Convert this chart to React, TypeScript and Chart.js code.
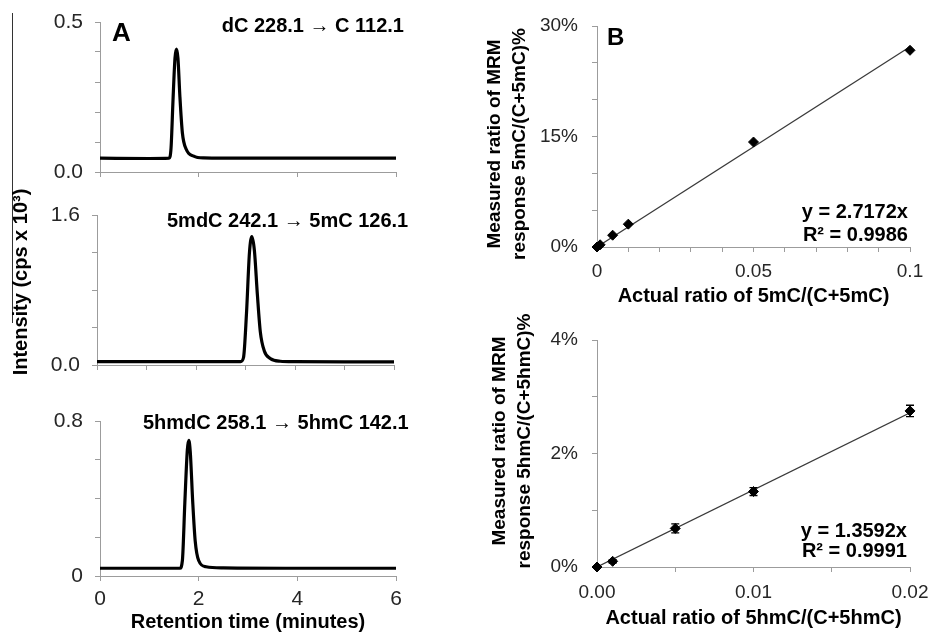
import React, { useEffect, useRef } from 'react';
import { Chart, registerables } from 'chart.js';

Chart.register(...registerables);

const FONT = "'Liberation Sans', Arial, Helvetica, sans-serif";
const AXIS = '#9c9c9c';
const TICK_COLOR = '#262626';

// ---------- Panel A: chromatograms (time in minutes, intensity in cps x 10^3) ----------
const dcTime = [0, 1.0, 1.4, 1.44, 1.48, 1.52, 1.55, 1.58, 1.62, 1.67, 1.75, 1.9, 2.1, 3, 4, 5, 6];
const dcIntensity = [0.046, 0.045, 0.046, 0.08, 0.24, 0.38, 0.41, 0.38, 0.25, 0.13, 0.075, 0.053, 0.047, 0.046, 0.046, 0.046, 0.046];

const mdcTime = [0, 1.5, 2.9, 2.96, 3.02, 3.08, 3.13, 3.18, 3.24, 3.3, 3.38, 3.5, 3.7, 4, 5, 6];
const mdcIntensity = [0.035, 0.035, 0.035, 0.08, 0.55, 1.2, 1.37, 1.22, 0.75, 0.35, 0.15, 0.07, 0.04, 0.035, 0.033, 0.033];

const hmdcTime = [0, 1.0, 1.62, 1.67, 1.72, 1.77, 1.8, 1.83, 1.88, 1.93, 2.0, 2.15, 2.5, 4, 6];
const hmdcIntensity = [0.04, 0.04, 0.04, 0.08, 0.38, 0.65, 0.7, 0.64, 0.38, 0.18, 0.08, 0.048, 0.042, 0.04, 0.04];

const timeTicks2: [number, string][] = [[0, '0'], [2, '2'], [4, '4'], [6, '6']];
const dcYLabels: [number, string][] = [[0, '0.0'], [0.5, '0.5']];
const mdcYLabels: [number, string][] = [[0, '0.0'], [1.6, '1.6']];
const hmdcYLabels: [number, string][] = [[0, '0'], [0.8, '0.8']];

// ---------- Panel B: calibration ----------
const mcActual = [0, 0.001, 0.005, 0.01, 0.05, 0.1];
const mcMeasured = [0, 0.003, 0.016, 0.031, 0.1425, 0.267];
const mcTrendX = [0, 0.1];
const mcTrendY = [0, 0.27172];
const mcXLabels: [number, string][] = [[0, '0'], [0.05, '0.05'], [0.1, '0.1']];
const mcYLabels: [number, string][] = [[0, '0%'], [0.15, '15%'], [0.3, '30%']];

const hmcActual = [0, 0.001, 0.005, 0.01, 0.02];
const hmcMeasured = [0, 0.001, 0.0068, 0.0133, 0.0275];
const hmcError = [0, 0.0003, 0.0008, 0.0007, 0.001];
const hmcTrendX = [0, 0.02];
const hmcTrendY = [0, 0.027184];
const hmcXLabels: [number, string][] = [[0, '0.00'], [0.01, '0.01'], [0.02, '0.02']];
const hmcYLabels: [number, string][] = [[0, '0%'], [0.02, '2%'], [0.04, '4%']];

const near = (a: number, b: number) => Math.abs(a - b) < 1e-9;
const labelAt = (map: [number, string][]) => (v: any) => {
  const n = Number(v);
  for (const [k, s] of map) if (near(n, k)) return s;
  return '';
};

const tickFontA = { family: FONT, size: 21 };
const tickFontB = { family: FONT, size: 19 };
const titleFont = { family: FONT, size: 20, weight: 'bold' as const, lineHeight: 1 };

function axisCommon() {
  return {
    grid: { drawOnChartArea: false, drawTicks: true, tickLength: 5, tickColor: AXIS, lineWidth: 1 },
    border: { display: true, color: AXIS, width: 1 },
  };
}

const fixX = (h: number) => (s: any) => { s.height = h; s.paddingLeft = 0; s.paddingRight = 0; };
const fixY = (w: number) => (s: any) => { s.width = w; s.paddingTop = 0; s.paddingBottom = 0; };

function chromConfig(opts: {
  times: number[]; values: number[]; yMax: number; yStep: number; yLabels: [number, string][];
  xStep: number; xLabels: [number, string][]; yWidth: number; xHeight: number; padding: any; xTitle?: string;
}) {
  return {
    type: 'line',
    data: {
      datasets: [{
        data: opts.times.map((t, i) => ({ x: t, y: opts.values[i] })),
        borderColor: '#000', borderWidth: 3.2, pointRadius: 0, fill: false,
        cubicInterpolationMode: 'monotone', borderJoinStyle: 'round', borderCapStyle: 'round',
      }],
    },
    options: {
      responsive: false, animation: false, events: [],
      layout: { padding: opts.padding, autoPadding: false },
      plugins: { legend: { display: false }, tooltip: { enabled: false } },
      scales: {
        x: {
          type: 'linear', min: 0, max: 6, ...axisCommon(),
          afterFit: fixX(opts.xHeight),
          ticks: { stepSize: opts.xStep, autoSkip: false, maxRotation: 0, padding: 6, font: tickFontA, color: TICK_COLOR, callback: labelAt(opts.xLabels) },
          title: opts.xTitle ? { display: true, text: opts.xTitle, font: titleFont, color: '#000', padding: { top: 0, bottom: 0 } } : { display: false },
        },
        y: {
          type: 'linear', min: 0, max: opts.yMax, ...axisCommon(),
          afterFit: fixY(opts.yWidth),
          ticks: { stepSize: opts.yStep, autoSkip: false, padding: 12, font: tickFontA, color: TICK_COLOR, callback: labelAt(opts.yLabels) },
        },
      },
    },
  };
}

function errorBarPlugin(xs: number[], ys: number[], errs: number[]) {
  return {
    id: 'errorBars',
    afterDatasetsDraw(chart: any) {
      const { ctx, scales } = chart;
      const x = scales.x, y = scales.y;
      ctx.save();
      ctx.strokeStyle = '#000';
      ctx.lineWidth = 1.3;
      xs.forEach((xv, i) => {
        const e = errs[i];
        if (!e) return;
        const px = x.getPixelForValue(xv);
        const t = y.getPixelForValue(ys[i] + e);
        const b = y.getPixelForValue(ys[i] - e);
        ctx.beginPath();
        ctx.moveTo(px, t); ctx.lineTo(px, b);
        ctx.moveTo(px - 4, t); ctx.lineTo(px + 4, t);
        ctx.moveTo(px - 4, b); ctx.lineTo(px + 4, b);
        ctx.stroke();
      });
      ctx.restore();
    },
  };
}

function calibConfig(opts: {
  xs: number[]; ys: number[]; tx: number[]; ty: number[]; xMax: number; xStep: number; xLabels: [number, string][];
  yMax: number; yStep: number; yLabels: [number, string][]; yWidth: number; xHeight: number; padding: any;
  xTitle: string; titleBottom: number; xPad: number; errs?: number[];
}) {
  return {
    type: 'scatter',
    data: {
      datasets: [
        {
          data: opts.xs.map((x, i) => ({ x, y: opts.ys[i] })),
          pointStyle: 'rectRot', pointRadius: 5, backgroundColor: '#000', borderColor: '#000', borderWidth: 1,
          showLine: false, clip: false,
        },
        {
          data: opts.tx.map((x, i) => ({ x, y: opts.ty[i] })),
          showLine: true, borderColor: '#3a3a3a', borderWidth: 1.2, pointRadius: 0, fill: false,
        },
      ],
    },
    plugins: opts.errs ? [errorBarPlugin(opts.xs, opts.ys, opts.errs)] : [],
    options: {
      responsive: false, animation: false, events: [],
      layout: { padding: opts.padding, autoPadding: false },
      plugins: { legend: { display: false }, tooltip: { enabled: false } },
      scales: {
        x: {
          type: 'linear', min: 0, max: opts.xMax, ...axisCommon(),
          afterFit: fixX(opts.xHeight),
          ticks: { stepSize: opts.xStep, autoSkip: false, maxRotation: 0, padding: opts.xPad, font: tickFontB, color: TICK_COLOR, callback: labelAt(opts.xLabels) },
          title: { display: true, text: opts.xTitle, font: titleFont, color: '#000', padding: { top: 0, bottom: opts.titleBottom } },
        },
        y: {
          type: 'linear', min: 0, max: opts.yMax, ...axisCommon(),
          afterFit: fixY(opts.yWidth),
          ticks: { stepSize: opts.yStep, autoSkip: false, padding: 14, font: tickFontB, color: TICK_COLOR, callback: labelAt(opts.yLabels) },
        },
      },
    },
  };
}

function ChartCanvas({ left, top, width, height, config }: { left: number; top: number; width: number; height: number; config: any }) {
  const ref = useRef<HTMLCanvasElement>(null);
  useEffect(() => {
    if (!ref.current) return;
    const chart = new Chart(ref.current, config);
    return () => chart.destroy();
  }, []);
  return (
    <canvas ref={ref} width={width} height={height}
      style={{ position: 'absolute', left, top, width, height }} />
  );
}

function Label({ text, x, baseline, size, bold = true, align = 'left' }: { text: React.ReactNode; x: number; baseline: number; size: number; bold?: boolean; align?: 'left' | 'right' }) {
  const top = baseline - 0.8465 * size;
  const style: React.CSSProperties = {
    position: 'absolute', top, fontSize: size, lineHeight: 1, fontWeight: bold ? 700 : 400,
    whiteSpace: 'nowrap', color: '#000', fontFamily: FONT,
  };
  if (align === 'left') style.left = x; else style.right = 932 - x;
  return <div style={style}>{text}</div>;
}

function RotText({ lines, cx, cy, size, lh }: { lines: string[]; cx: number; cy: number; size: number; lh: number }) {
  return (
    <div style={{
      position: 'absolute', left: cx, top: cy, transform: 'translate(-50%, -50%) rotate(-90deg)',
      whiteSpace: 'nowrap', fontSize: size, lineHeight: `${lh}px`, fontWeight: 700, textAlign: 'center',
      color: '#000', fontFamily: FONT,
    }}>
      {lines.map((l, i) => <div key={i}>{l}</div>)}
    </div>
  );
}

export default function App() {
  const a1 = chromConfig({ times: dcTime, values: dcIntensity, yMax: 0.5, yStep: 0.1, yLabels: dcYLabels, xStep: 2, xLabels: [], yWidth: 100, xHeight: 18, padding: { top: 22, right: 34, bottom: 0, left: 0 } });
  const a2 = chromConfig({ times: mdcTime, values: mdcIntensity, yMax: 1.6, yStep: 0.4, yLabels: mdcYLabels, xStep: 1, xLabels: [], yWidth: 97, xHeight: 20, padding: { top: 25, right: 36, bottom: 0, left: 0 } });
  const a3 = chromConfig({ times: hmdcTime, values: hmdcIntensity, yMax: 0.8, yStep: 0.2, yLabels: hmdcYLabels, xStep: 2, xLabels: timeTicks2, yWidth: 100, xHeight: 56, padding: { top: 36, right: 34, bottom: 0, left: 0 }, xTitle: 'Retention time (minutes)' });
  const b1 = calibConfig({ xs: mcActual, ys: mcMeasured, tx: mcTrendX, ty: mcTrendY, xMax: 0.1, xStep: 0.01, xLabels: mcXLabels, yMax: 0.3, yStep: 0.05, yLabels: mcYLabels, yWidth: 137, xHeight: 73, padding: { top: 26, right: 22, bottom: 0, left: 0 }, xTitle: 'Actual ratio of 5mC/(C+5mC)', titleBottom: 14, xPad: 8 });
  const b2 = calibConfig({ xs: hmcActual, ys: hmcMeasured, tx: hmcTrendX, ty: hmcTrendY, xMax: 0.02, xStep: 0.005, xLabels: hmcXLabels, yMax: 0.04, yStep: 0.01, yLabels: hmcYLabels, yWidth: 137, xHeight: 65, padding: { top: 20, right: 22, bottom: 0, left: 0 }, xTitle: 'Actual ratio of 5hmC/(C+5hmC)', titleBottom: 4, xPad: 9, errs: hmcError });

  return (
    <div style={{ position: 'absolute', left: 0, top: 0, width: 932, height: 632, background: '#fff', overflow: 'hidden', fontFamily: FONT }}>
      <ChartCanvas left={0} top={0} width={430} height={190} config={a1} />
      <ChartCanvas left={0} top={190} width={430} height={195} config={a2} />
      <ChartCanvas left={0} top={385} width={430} height={247} config={a3} />
      <ChartCanvas left={460} top={0} width={472} height={320} config={b1} />
      <ChartCanvas left={460} top={320} width={472} height={312} config={b2} />

      <div style={{ position: 'absolute', left: 12, top: 13, width: 1, height: 310, background: '#333' }} />
      <RotText lines={['Intensity (cps x 10³)']} cx={20} cy={282} size={20} lh={24} />
      <RotText lines={['Measured ratio of MRM', 'response 5mC/(C+5mC)%']} cx={506} cy={144} size={19} lh={25} />
      <RotText lines={['Measured ratio of MRM', 'response 5hmC/(C+5hmC)%']} cx={511} cy={441} size={19} lh={25} />

      <Label text="A" x={112} baseline={41} size={26} />
      <Label text="B" x={607} baseline={45} size={24} />
      <Label text="dC 228.1 → C 112.1" x={404} baseline={32} size={20} align="right" />
      <Label text="5mdC 242.1 → 5mC 126.1" x={167} baseline={227} size={20} />
      <Label text="5hmdC 258.1 → 5hmC 142.1" x={143} baseline={429} size={20} />
      <Label text="y = 2.7172x" x={908} baseline={218} size={20} align="right" />
      <Label text="R² = 0.9986" x={908} baseline={241} size={20} align="right" />
      <Label text="y = 1.3592x" x={907} baseline={537} size={20} align="right" />
      <Label text="R² = 0.9991" x={907} baseline={557} size={20} align="right" />
    </div>
  );
}
